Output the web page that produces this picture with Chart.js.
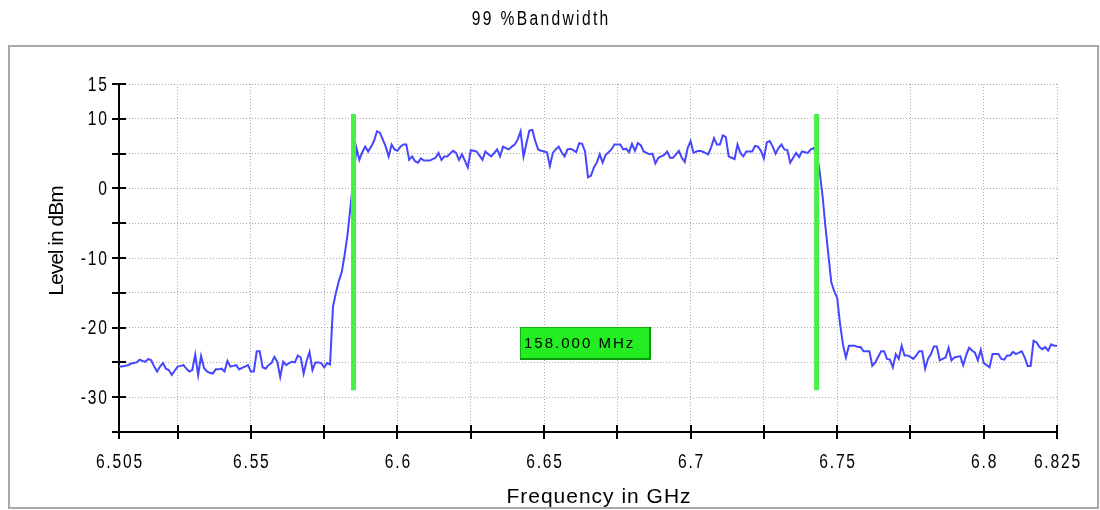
<!DOCTYPE html>
<html lang="en">
<head>
<meta charset="UTF-8">
<title>99 %Bandwidth</title>
<script src="https://cdn.jsdelivr.net/npm/chart.js"></script>
<style>
  html, body { margin: 0; padding: 0; background: #fff; }
  canvas { display: block; }
</style>
</head>
<body>
<canvas id="bwChart" width="1100" height="510"></canvas>
<script>
// sweep grid: 1 MHz steps starting at 6.505 GHz
const freqStart = 6.505;
const freqStep = 0.001;

// measured level per sweep point, dBm
const levels = [
  -25.6, -25.6, -25.5, -25.4, -25.2, -25.1, -25.0, -24.6, -24.8, -24.9,
  -24.5, -24.7, -25.6, -26.3, -25.6, -25.1, -25.9, -26.1, -26.8, -26.2,
  -25.6, -25.5, -25.4, -25.9, -26.3, -26.1, -23.9, -26.8, -24.1, -25.8,
  -26.3, -26.5, -26.6, -26.0, -26.0, -25.9, -26.3, -24.8, -25.6, -25.5,
  -25.4, -26.0, -25.8, -25.6, -25.4, -26.3, -26.3, -23.4, -23.4, -25.7,
  -25.9, -25.4, -25.1, -24.2, -24.9, -27.1, -24.9, -25.4, -25.1, -24.9,
  -25.0, -24.0, -24.3, -26.6, -24.8, -23.5, -26.1, -25.0, -25.0, -25.1,
  -25.7, -25.1, -25.3, -17.0, -15.0, -13.3, -12.0, -9.5, -6.5, -2.5,
  1.5, 5.8, 4.1, 5.2, 6.0, 5.3, 6.0, 6.8, 8.2, 8.0,
  7.0, 6.0, 4.6, 6.3, 5.6, 5.4, 6.0, 6.3, 6.3, 4.1,
  4.6, 3.9, 3.7, 4.3, 4.0, 4.0, 4.0, 4.2, 4.4, 5.1,
  4.1, 4.6, 4.6, 5.0, 5.4, 5.1, 4.1, 4.9, 4.0, 3.0,
  5.5, 5.4, 5.3, 4.7, 4.1, 5.3, 4.9, 4.6, 5.1, 5.6,
  4.6, 6.0, 5.8, 5.6, 6.0, 6.3, 7.0, 8.2, 4.6, 6.5,
  8.3, 8.4, 6.8, 5.6, 5.4, 5.3, 5.2, 3.2, 5.1, 5.6,
  6.0, 5.2, 4.6, 5.6, 5.7, 5.5, 5.2, 6.5, 6.4, 5.3,
  1.6, 1.8, 3.0, 3.7, 4.9, 3.7, 4.8, 5.2, 5.6, 6.3,
  6.3, 6.3, 5.6, 5.7, 5.2, 6.4, 5.4, 6.5, 6.2, 5.3,
  5.1, 4.9, 5.0, 3.6, 4.4, 4.6, 4.8, 5.3, 4.4, 4.4,
  4.9, 5.4, 4.4, 3.8, 5.8, 6.8, 5.1, 5.3, 5.4, 5.3,
  5.1, 4.9, 5.9, 7.2, 6.3, 6.3, 7.6, 7.4, 4.6, 4.4,
  4.2, 6.3, 5.1, 4.6, 5.3, 5.3, 5.3, 6.1, 6.0, 5.4,
  4.3, 6.6, 6.8, 6.0, 5.0, 5.8, 6.3, 5.6, 5.5, 3.7,
  4.4, 5.1, 4.5, 5.3, 5.2, 5.1, 5.6, 5.8, 5.0, 2.5,
  -1.0, -5.5, -9.5, -13.5, -14.8, -15.7, -19.5, -22.5, -24.3, -22.6,
  -22.6, -22.6, -22.8, -22.8, -23.4, -23.4, -23.4, -25.5, -25.0, -24.2,
  -23.4, -23.4, -24.5, -24.6, -25.7, -23.8, -24.5, -22.6, -24.0, -24.0,
  -24.2, -24.5, -24.0, -23.4, -23.4, -25.9, -24.5, -23.8, -22.7, -22.7,
  -24.7, -24.5, -24.3, -22.9, -24.7, -24.3, -24.2, -24.1, -25.4, -24.0,
  -22.9, -23.3, -23.6, -24.7, -23.2, -25.1, -25.4, -25.7, -23.8, -23.8,
  -23.8, -24.5, -24.6, -24.0, -24.0, -23.5, -23.8, -23.6, -23.4, -24.3,
  -25.5, -25.5, -21.9, -22.1, -22.8, -23.1, -22.8, -23.3, -22.4, -22.6, -22.6
];

// 99 % bandwidth edges (GHz) and the level span of the marker bars
const markerFreqs = [6.585, 6.743];
const markerSpan = [-29, 10.7];
const labelLevel = -22.3;

const xTicks = [6.505, 6.525, 6.55, 6.575, 6.6, 6.625, 6.65, 6.675, 6.7, 6.725, 6.75, 6.775, 6.8, 6.825];
const xTickLabels = [6.505, 6.55, 6.6, 6.65, 6.7, 6.75, 6.8, 6.825];
const yTicks = [-35, -30, -25, -20, -15, -10, -5, 0, 5, 10, 15];
const yTickLabels = [15, 10, 0, -10, -20, -30];

const chartTitle = '99 %Bandwidth';
const xTitle = 'Frequency in GHz';
const yTitle = 'Level in dBm';

const trace = levels.map((v, i) => ({ x: freqStart + i * freqStep, y: v }));
const bandwidthMHz = (markerFreqs[1] - markerFreqs[0]) * 1000;

const plainFont = '"Liberation Sans", Arial, sans-serif';

// condensed text: squeeze the glyphs horizontally, keep the anchor point
function narrowText(ctx, text, x, y, align, baseline, spacing) {
  const sx = 0.78;
  ctx.save();
  ctx.translate(x, y);
  ctx.scale(sx, 1);
  ctx.font = '20px ' + plainFont;
  ctx.letterSpacing = spacing + 'px';
  ctx.textAlign = 'left';
  ctx.textBaseline = baseline;
  const w = ctx.measureText(text).width - spacing;
  const x0 = align === 'center' ? -w / 2 : align === 'right' ? -w : 0;
  ctx.fillText(text, x0, 0);
  ctx.restore();
}

// axes with ticks that cross the line, labels, titles, bandwidth box, outer frame
const decor = {
  id: 'decor',
  afterDatasetsDraw(chart) {
    const { ctx, scales: { x, y } } = chart;
    const cx = x.getPixelForValue((markerFreqs[0] + markerFreqs[1]) / 2);
    const cy = y.getPixelForValue(labelLevel);
    const w = 131, h = 33;
    const bx = Math.round(cx - w / 2), by = Math.round(cy - h / 2);
    ctx.save();
    ctx.fillStyle = '#22ee22';
    ctx.fillRect(bx, by, w, h);
    ctx.strokeStyle = '#10b010';
    ctx.lineWidth = 1;
    ctx.strokeRect(bx + 0.5, by + 0.5, w - 1, h - 1);
    ctx.fillStyle = '#0a960a';
    ctx.fillRect(bx + w - 2, by, 2, h);
    ctx.fillRect(bx, by + h - 2, w, 2);
    ctx.fillStyle = '#000';
    ctx.font = '15px ' + plainFont;
    ctx.letterSpacing = '2px';
    ctx.textAlign = 'left';
    ctx.textBaseline = 'middle';
    ctx.fillText(bandwidthMHz.toFixed(3) + ' MHz', bx + 4, by + h / 2);
    ctx.restore();
  },
  afterDraw(chart) {
    const { ctx, chartArea: a, scales: { x, y } } = chart;
    ctx.save();
    ctx.strokeStyle = '#000';
    ctx.lineWidth = 2;
    ctx.beginPath();
    xTicks.forEach(v => {
      const px = Math.round(x.getPixelForValue(v));
      ctx.moveTo(px, a.bottom - 7);
      ctx.lineTo(px, a.bottom + 7);
    });
    yTicks.forEach(v => {
      const py = Math.round(y.getPixelForValue(v));
      ctx.moveTo(a.left - 7, py);
      ctx.lineTo(a.left + 7, py);
    });
    ctx.stroke();

    ctx.fillStyle = '#000';
    xTickLabels.forEach(v => narrowText(ctx, String(v), x.getPixelForValue(v), 468, 'center', 'alphabetic', 2.3));
    yTickLabels.forEach(v => narrowText(ctx, String(v), a.left - 12, y.getPixelForValue(v) + 1, 'right', 'middle', 2.3));
    narrowText(ctx, chartTitle, 540, 25, 'center', 'alphabetic', 3);

    ctx.font = '21px ' + plainFont;
    ctx.letterSpacing = '1px';
    ctx.textAlign = 'center';
    ctx.textBaseline = 'alphabetic';
    ctx.fillText(xTitle, 599, 503);

    ctx.save();
    ctx.translate(63, 241);
    ctx.rotate(-Math.PI / 2);
    ctx.letterSpacing = '-1px';
    ctx.fillText(yTitle, 0, 0);
    ctx.restore();

    ctx.strokeStyle = '#a8a8a8';
    ctx.lineWidth = 2;
    ctx.strokeRect(9, 46, 1089, 462);
    ctx.restore();
  }
};

const gridStyle = { color: '#aaaaaa', lineWidth: 1, drawTicks: false };
const borderStyle = { color: '#000', width: 2, dash: [1, 2] };

new Chart(document.getElementById('bwChart'), {
  type: 'line',
  data: {
    datasets: [
      {
        data: trace,
        borderColor: '#4646ff',
        borderWidth: 2,
        pointRadius: 0,
        tension: 0,
        order: 2
      },
      ...markerFreqs.map(f => ({
        data: [{ x: f, y: markerSpan[0] }, { x: f, y: markerSpan[1] }],
        borderColor: '#46f046',
        borderWidth: 5,
        borderCapStyle: 'butt',
        pointRadius: 0,
        order: 1
      }))
    ]
  },
  options: {
    responsive: false,
    animation: false,
    events: [],
    layout: { padding: { left: 39, right: 43, top: 84, bottom: 0 } },
    plugins: { legend: { display: false }, tooltip: { enabled: false } },
    scales: {
      x: {
        type: 'linear',
        min: 6.505,
        max: 6.825,
        afterBuildTicks: s => { s.ticks = xTicks.map(v => ({ value: v })); },
        afterFit: s => { s.height = 78; },
        ticks: { display: false },
        grid: gridStyle,
        border: borderStyle
      },
      y: {
        type: 'linear',
        min: -35,
        max: 15,
        afterBuildTicks: s => { s.ticks = yTicks.map(v => ({ value: v })); },
        afterFit: s => { s.width = 80; },
        ticks: { display: false },
        grid: gridStyle,
        border: borderStyle
      }
    }
  },
  plugins: [decor]
});
</script>
</body>
</html>
